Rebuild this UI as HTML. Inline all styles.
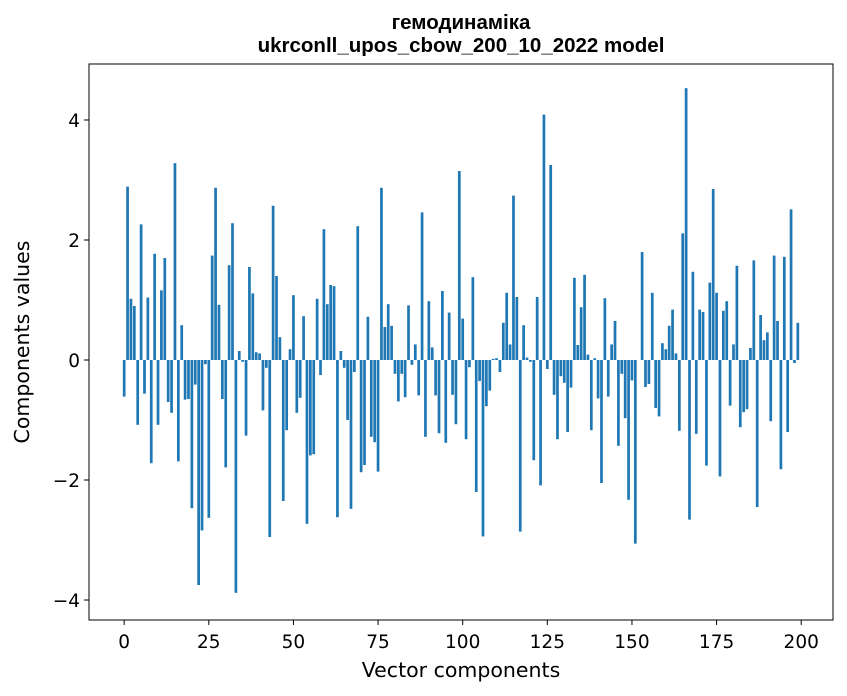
<!DOCTYPE html>
<html><head><meta charset="utf-8"><style>
body{margin:0;background:#fff;}
svg{display:block;font-family:"DejaVu Sans","Liberation Sans",sans-serif;}
</style></head><body>
<svg id="chart" width="847" height="696">
<text x="461" y="29" text-anchor="middle" font-size="20.5" font-weight="bold" font-family="Liberation Sans, sans-serif">гемодинаміка</text>
<text x="461" y="52" text-anchor="middle" font-size="20.5" font-weight="bold" font-family="Liberation Sans, sans-serif">ukrconll_upos_cbow_200_10_2022 model</text>
<g id="bars"></g>
<g id="axes"></g>
<rect x="89" y="64" width="744" height="556" fill="none" stroke="#000" stroke-width="1"/>
<text x="461" y="677" text-anchor="middle" font-size="20.5">Vector components</text>
<text transform="translate(29,342) rotate(-90)" text-anchor="middle" font-size="20.5">Components values</text>
</svg>
<script>
const values = [
-0.61,2.89,1.02,0.9,-1.08,2.26,-0.56,1.04,-1.72,1.77,
-1.08,1.16,1.7,-0.7,-0.88,3.28,-1.69,0.58,-0.66,-0.65,
-2.47,-0.41,-3.75,-2.84,-0.07,-2.63,1.74,2.87,0.92,-0.65,
-1.79,1.58,2.28,-3.88,0.15,-0.03,-1.26,1.55,1.11,0.13,
0.11,-0.84,-0.13,-2.95,2.57,1.4,0.38,-2.35,-1.17,0.18,
1.08,-0.88,-0.63,0.73,-2.73,-1.59,-1.57,1.02,-0.25,2.18,
0.93,1.25,1.23,-2.62,0.15,-0.13,-1.0,-2.48,-0.2,2.23,
-1.87,-1.75,0.72,-1.28,-1.37,-1.86,2.87,0.55,0.93,0.57,
-0.23,-0.69,-0.23,-0.62,0.91,-0.08,0.26,-0.59,2.46,-1.28,
0.98,0.21,-0.59,-1.22,1.15,-1.38,0.79,-0.58,-1.07,3.15,
0.69,-1.32,-0.12,1.38,-2.2,-0.35,-2.94,-0.77,-0.51,0.02,
0.03,-0.2,0.62,1.12,0.26,2.74,1.05,-2.86,0.58,0.04,
-0.03,-1.67,1.05,-2.09,4.09,-0.15,3.25,-0.58,-1.32,-0.27,
-0.38,-1.2,-0.46,1.37,0.25,0.88,1.42,0.09,-1.17,0.03,
-0.64,-2.05,1.03,-0.61,0.26,0.65,-1.43,-0.23,-0.97,-2.33,
-0.34,-3.06,0.0,1.8,-0.45,-0.4,1.12,-0.8,-0.94,0.28,
0.18,0.57,0.84,0.11,-1.18,2.11,4.53,-2.66,1.47,-1.23,
0.84,0.8,-1.76,1.29,2.85,1.12,-1.94,0.82,0.98,-0.76,
0.26,1.57,-1.12,-0.87,-0.82,0.2,1.66,-2.45,0.75,0.33,
0.46,-1.02,1.74,0.65,-1.82,1.72,-1.2,2.51,-0.05,0.62
];
const xTicks = [0,25,50,75,100,125,150,175,200];
const yTicks = [-4,-2,0,2,4];
const yTickLabels = ["\u22124","\u22122","0","2","4"];

const NS="http://www.w3.org/2000/svg";
const plot={left:89,right:833,top:64,bottom:620};
const xMin=-10.39,xMax=209.39,yMin=-4.333,yMax=4.933;
function xs(v){return plot.left+(v-xMin)/(xMax-xMin)*(plot.right-plot.left);}
function ys(v){return plot.bottom-(v-yMin)/(yMax-yMin)*(plot.bottom-plot.top);}
const barsG=document.getElementById('bars');
values.forEach((v,i)=>{
  const r=document.createElementNS(NS,'rect');
  const x0=xs(i-0.4),x1=xs(i+0.4);
  const y0=ys(Math.max(v,0)),y1=ys(Math.min(v,0));
  r.setAttribute('x',x0);r.setAttribute('width',x1-x0);
  r.setAttribute('y',y0);r.setAttribute('height',Math.max(y1-y0,0));
  r.setAttribute('fill','#1f77b4');
  
  
  barsG.appendChild(r);
});
const axG=document.getElementById('axes');
xTicks.forEach(t=>{
  const x=xs(t);
  const l=document.createElementNS(NS,'line');
  l.setAttribute('x1',x);l.setAttribute('x2',x);l.setAttribute('y1',plot.bottom);l.setAttribute('y2',plot.bottom+5);
  l.setAttribute('stroke','#000');
  
  
  axG.appendChild(l);
  const tx=document.createElementNS(NS,'text');
  tx.setAttribute('x',x);tx.setAttribute('y',plot.bottom+28);tx.setAttribute('text-anchor','middle');tx.setAttribute('font-size','18.5');
  tx.textContent=t;
  
  
  axG.appendChild(tx);
});
yTicks.forEach((t,k)=>{
  const y=ys(t);
  const l=document.createElementNS(NS,'line');
  l.setAttribute('x1',plot.left-5);l.setAttribute('x2',plot.left);l.setAttribute('y1',y);l.setAttribute('y2',y);
  l.setAttribute('stroke','#000');
  
  
  axG.appendChild(l);
  const tx=document.createElementNS(NS,'text');
  tx.setAttribute('x',plot.left-9);tx.setAttribute('y',y+7);tx.setAttribute('text-anchor','end');tx.setAttribute('font-size','18.5');
  tx.textContent=yTickLabels[k];
  
  
  axG.appendChild(tx);
});
</script>
</body></html>
